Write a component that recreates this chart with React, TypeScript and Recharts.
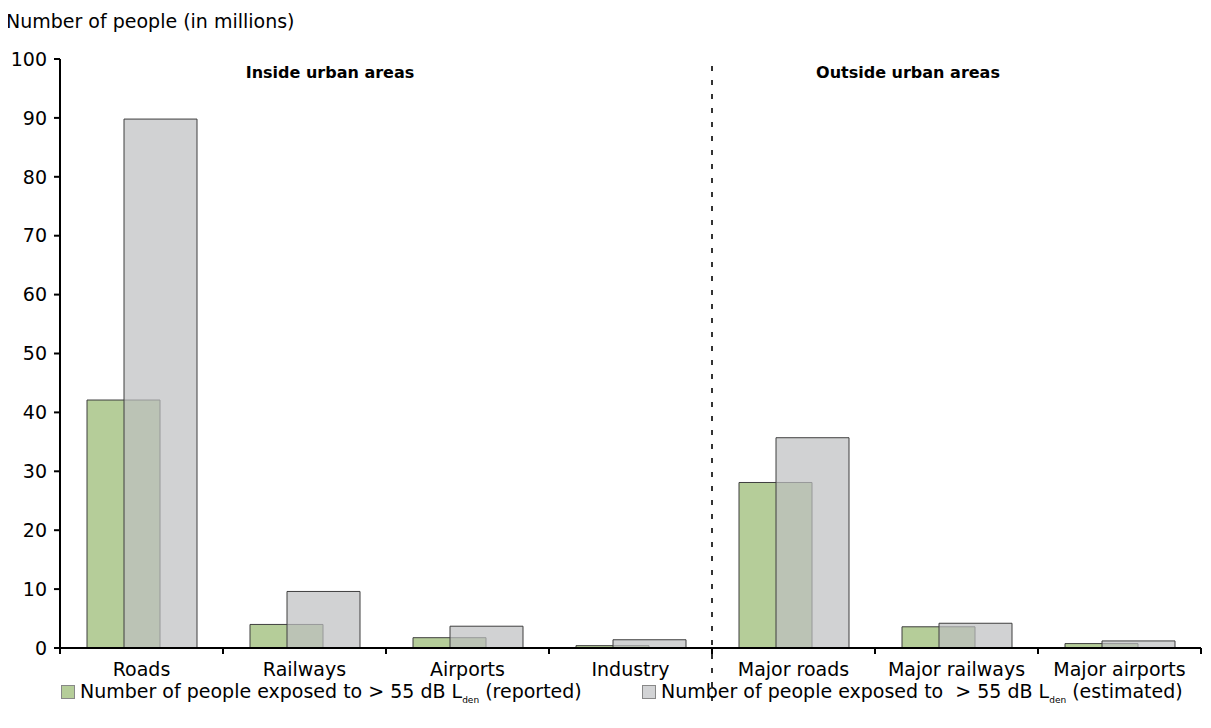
import React from 'react';
import { BarChart, Bar, XAxis, YAxis, ReferenceLine } from 'recharts';

const categories = ['Roads', 'Railways', 'Airports', 'Industry', 'Major roads', 'Major railways', 'Major airports'];
const reported = [42.1, 4.0, 1.75, 0.4, 28.1, 3.6, 0.75];
const estimated = [89.8, 9.6, 3.7, 1.4, 35.7, 4.2, 1.2];
const yTicks = [0, 10, 20, 30, 40, 50, 60, 70, 80, 90, 100];
const dividerCategory = 'Major roads';

const data = categories.map((c, i) => ({ cat: c, reported: reported[i], estimated: estimated[i] }));

const FONT = '"DejaVu Sans", Verdana, sans-serif';
const CHART_W = 1203;
const CHART_H = 712;
const M = { top: 51, right: 10, left: 12, bottom: 42 };
const Y_W = 40;
const X_H = 30;
const AXIS_Y = CHART_H - M.bottom - X_H;
const BAND = (CHART_W - M.left - M.right - Y_W) / categories.length;
const FS = 19;

const CatTick = (props: any) => {
  const { x, payload, index } = props;
  const half = BAND / 2;
  return (
    <g>
      <line x1={x - half} x2={x - half} y1={AXIS_Y} y2={AXIS_Y + 6} stroke="#000" strokeWidth={2} />
      {index === categories.length - 1 && (
        <line x1={x + half} x2={x + half} y1={AXIS_Y} y2={AXIS_Y + 6} stroke="#000" strokeWidth={2} />
      )}
      <text x={x} y={AXIS_Y + 28} textAnchor="middle" fill="#000" fontSize={FS} fontFamily={FONT}>
        {payload.value}
      </text>
    </g>
  );
};

const LegendItem = ({ color, text }: { color: string; text: React.ReactNode }) => (
  <div style={{ display: 'flex', alignItems: 'center', whiteSpace: 'nowrap' }}>
    <span style={{ display: 'inline-block', width: 12, height: 12, background: color, border: '1px solid #888', marginRight: 5 }} />
    <span>{text}</span>
  </div>
);

export default function App() {
  return (
    <div style={{ position: 'relative', width: CHART_W, height: CHART_H, fontFamily: FONT, color: '#000' }}>
      <div style={{ position: 'absolute', left: -2, top: 2, fontSize: FS }}>Number of people (in millions)</div>
      <div style={{ position: 'absolute', left: 322, top: 55, fontSize: 16, fontWeight: 'bold', transform: 'translateX(-50%)', whiteSpace: 'nowrap' }}>Inside urban areas</div>
      <div style={{ position: 'absolute', left: 900, top: 55, fontSize: 16, fontWeight: 'bold', transform: 'translateX(-50%)', whiteSpace: 'nowrap' }}>Outside urban areas</div>
      <BarChart
        width={CHART_W}
        height={CHART_H}
        data={data}
        margin={M}
        barSize={73}
        barGap={-36}
        style={{ overflow: 'visible' }}
      >
        <XAxis
          xAxisId="cat"
          dataKey="cat"
          height={X_H}
          axisLine={{ stroke: '#000', strokeWidth: 2 }}
          tickLine={false}
          tick={<CatTick />}
          interval={0}
        />
        <YAxis
          width={Y_W}
          domain={[0, 100]}
          ticks={yTicks}
          interval={0}
          axisLine={{ stroke: '#000', strokeWidth: 2 }}
          tickLine={{ stroke: '#000', strokeWidth: 2 }}
          tickSize={6}
          tickMargin={7}
          tick={{ fill: '#000', fontSize: FS, fontFamily: FONT }}
        />
        <Bar xAxisId="cat" dataKey="reported" fill="#b5cd99" stroke="#3f3f3f" strokeWidth={1} isAnimationActive={false} />
        <Bar xAxisId="cat" dataKey="estimated" fill="#bebfc1" fillOpacity={0.7} stroke="#3f3f3f" strokeWidth={1} isAnimationActive={false} />
        <ReferenceLine
          xAxisId="cat"
          ifOverflow="visible"
          position="start"
          segment={[{ x: dividerCategory, y: -9 }, { x: dividerCategory, y: 100 }]}
          stroke="#333"
          strokeWidth={2}
          strokeDasharray="5 9"
        />
      </BarChart>
      <div style={{ position: 'absolute', left: 53, top: 672, fontSize: FS }}>
        <LegendItem color="#b5cd99" text={<>Number of people exposed to &gt; 55 dB L<sub style={{ fontSize: 9 }}>den</sub> (reported)</>} />
      </div>
      <div style={{ position: 'absolute', left: 634, top: 672, fontSize: FS }}>
        <LegendItem color="#d2d3d5" text={<>Number of people exposed to &nbsp;&gt; 55 dB L<sub style={{ fontSize: 9 }}>den</sub> (estimated)</>} />
      </div>
    </div>
  );
}
